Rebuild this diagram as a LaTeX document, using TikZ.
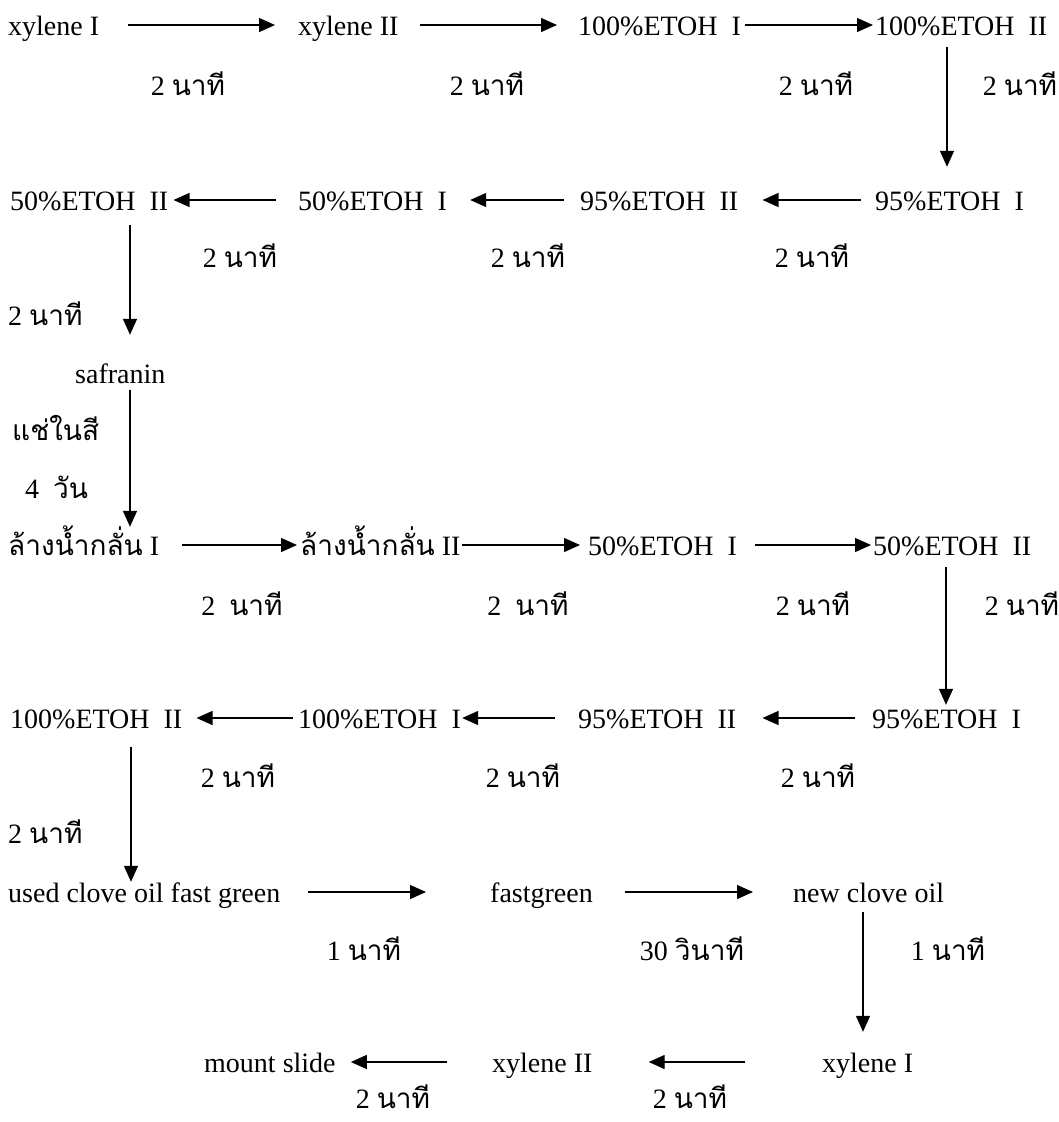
\documentclass[tikz,border=0pt]{standalone}
\usepackage{fontspec}
\setmainfont{Liberation Serif}
\newfontfamily\thaifont[Script=Thai]{Loma}
\usepackage{tikz}
\usetikzlibrary{arrows.meta}
\newcommand{\nt}{{\thaifont นาที}}

\begin{document}
\begin{tikzpicture}[x=1pt, y=-1pt,
            snode/.style={anchor=west, inner sep=0pt, text height=20pt, text depth=0pt, font=\fontsize{28pt}{34pt}\selectfont},
            tnode/.style={snode, anchor=center},
            arrow/.style={-{Triangle[length=16pt, width=14pt]}, line width=1.3pt}
        ]
        \useasboundingbox (0,0) rectangle (1059,1122);

        % --- row 1 ---
        \node[snode] (r1a) at (8,25) {xylene I};
        \node[snode] (r1b) at (298,25) {xylene II};
        \node[snode] (r1c) at (578,25) {100\%ETOH\ \ I};
        \node[snode] (r1d) at (875,25) {100\%ETOH\ \ II};
        \draw[arrow, shorten <=29pt, shorten >=23pt] (r1a.east)--(r1b.west);
        \draw[arrow, shorten <=21pt, shorten >=21pt] (r1b.east)--(r1c.west);
        \draw[arrow, shorten <=4pt, shorten >=2pt] (r1c.east)--(r1d.west);
        \node[tnode] (t1a) at (188,85) {2 \nt};
        \node[tnode] (t1b) at (487,85) {2 \nt};
        \node[tnode] (t1c) at (816,85) {2 \nt};
        \node[tnode] (t1d) at (1020,85) {2 \nt};

        % --- row 2 ---
        \node[snode] (r2a) at (10,200) {50\%ETOH\ \ II};
        \node[snode] (r2b) at (298,200) {50\%ETOH\ \ I};
        \node[snode] (r2c) at (580,200) {95\%ETOH\ \ II};
        \node[snode] (r2d) at (875,200) {95\%ETOH\ \ I};
        \draw[arrow, shorten <=12pt, shorten >=23pt] ([xshift=72pt]r1d.south west)--([xshift=72pt]r2d.north west);
        \draw[arrow, shorten <=14pt, shorten >=24pt] (r2d.west)--(r2c.east);
        \draw[arrow, shorten <=16pt, shorten >=23pt] (r2c.west)--(r2b.east);
        \draw[arrow, shorten <=22pt, shorten >=5pt] (r2b.west)--(r2a.east);
        \node[tnode] (t2a) at (240,257) {2 \nt};
        \node[tnode] (t2b) at (528,257) {2 \nt};
        \node[tnode] (t2c) at (812,257) {2 \nt};
        \node[snode] (t2d) at (8,315) {2 \nt};

        % --- staining ---
        \node[snode] (saf) at (75,373) {safranin};
        \draw[arrow, shorten <=15pt, shorten >=28pt] ([xshift=120pt]r2a.south west)--([xshift=55pt]saf.north west);
        \node[snode] (soak) at (12,430) {\thaifont แช่ในสี};
        \node[snode] (days) at (25,488) {4\ \ {\thaifont วัน}};

        % --- row 3 ---
        \node[snode] (r3a) at (8,545) {{\thaifont ล้างน้ำกลั่น} I};
        \node[snode] (r3b) at (300,545) {{\thaifont ล้างน้ำกลั่น} II};
        \node[snode] (r3c) at (588,545) {50\%ETOH\ \ I};
        \node[snode] (r3d) at (873,545) {50\%ETOH\ \ II};
        \draw[arrow, shorten <=7pt, shorten >=8pt] ([xshift=55pt]saf.south west)--([xshift=122pt]r3a.north west);
        \draw[arrow, shorten <=23pt, shorten >=3pt] (r3a.east)--(r3b.west);
        \draw[arrow, shorten <=1pt, shorten >=8pt] (r3b.east)--(r3c.west);
        \draw[arrow, shorten <=18pt, shorten >=2pt] (r3c.east)--(r3d.west);
        \node[tnode] (t3a) at (242,605) {2\ \ \nt};
        \node[tnode] (t3b) at (528,605) {2\ \ \nt};
        \node[tnode] (t3c) at (813,605) {2 \nt};
        \node[tnode] (t3d) at (1022,605) {2 \nt};

        % --- row 4 ---
        \node[snode] (r4a) at (10,718) {100\%ETOH\ \ II};
        \node[snode] (r4b) at (298,718) {100\%ETOH\ \ I};
        \node[snode] (r4c) at (578,718) {95\%ETOH\ \ II};
        \node[snode] (r4d) at (872,718) {95\%ETOH\ \ I};
        \draw[arrow, shorten <=12pt, shorten >=3pt] ([xshift=73pt]r3d.south west)--([xshift=74pt]r4d.north west);
        \draw[arrow, shorten <=17pt, shorten >=26pt] (r4d.west)--(r4c.east);
        \draw[arrow, shorten <=23pt, shorten >=1pt] (r4c.west)--(r4b.east);
        \draw[arrow, shorten <=5pt, shorten >=14pt] (r4b.west)--(r4a.east);
        \node[tnode] (t4a) at (238,777) {2 \nt};
        \node[tnode] (t4b) at (523,777) {2 \nt};
        \node[tnode] (t4c) at (818,777) {2 \nt};
        \node[snode] (t4d) at (8,833) {2 \nt};

        % --- row 5 ---
        \node[snode] (r5a) at (8,892) {used clove oil fast green};
        \node[snode] (r5b) at (490,892) {fastgreen};
        \node[snode] (r5c) at (793,892) {new clove oil};
        \draw[arrow, shorten <=19pt, shorten >=0pt] ([xshift=121pt]r4a.south west)--([xshift=123pt]r5a.north west);
        \draw[arrow, shorten <=27pt, shorten >=64pt] (r5a.east)--(r5b.west);
        \draw[arrow, shorten <=32pt, shorten >=40pt] (r5b.east)--(r5c.west);
        \node[tnode] (t5a) at (364,950) {1 \nt};
        \node[tnode] (t5b) at (692,950) {30 {\thaifont วินาที}};
        \node[tnode] (t5c) at (948,950) {1 \nt};

        % --- row 6 ---
        \node[snode] (r6a) at (204,1062) {mount slide};
        \node[snode] (r6b) at (492,1062) {xylene II};
        \node[snode] (r6c) at (822,1062) {xylene I};
        \draw[arrow, shorten <=10pt, shorten >=20pt] ([xshift=70pt]r5c.south west)--([xshift=41pt]r6c.north west);
        \draw[arrow, shorten <=77pt, shorten >=56pt] (r6c.west)--(r6b.east);
        \draw[arrow, shorten <=45pt, shorten >=15pt] (r6b.west)--(r6a.east);
        \node[tnode] (t6a) at (393,1098) {2 \nt};
        \node[tnode] (t6b) at (690,1098) {2 \nt};

\end{tikzpicture}
\end{document}
